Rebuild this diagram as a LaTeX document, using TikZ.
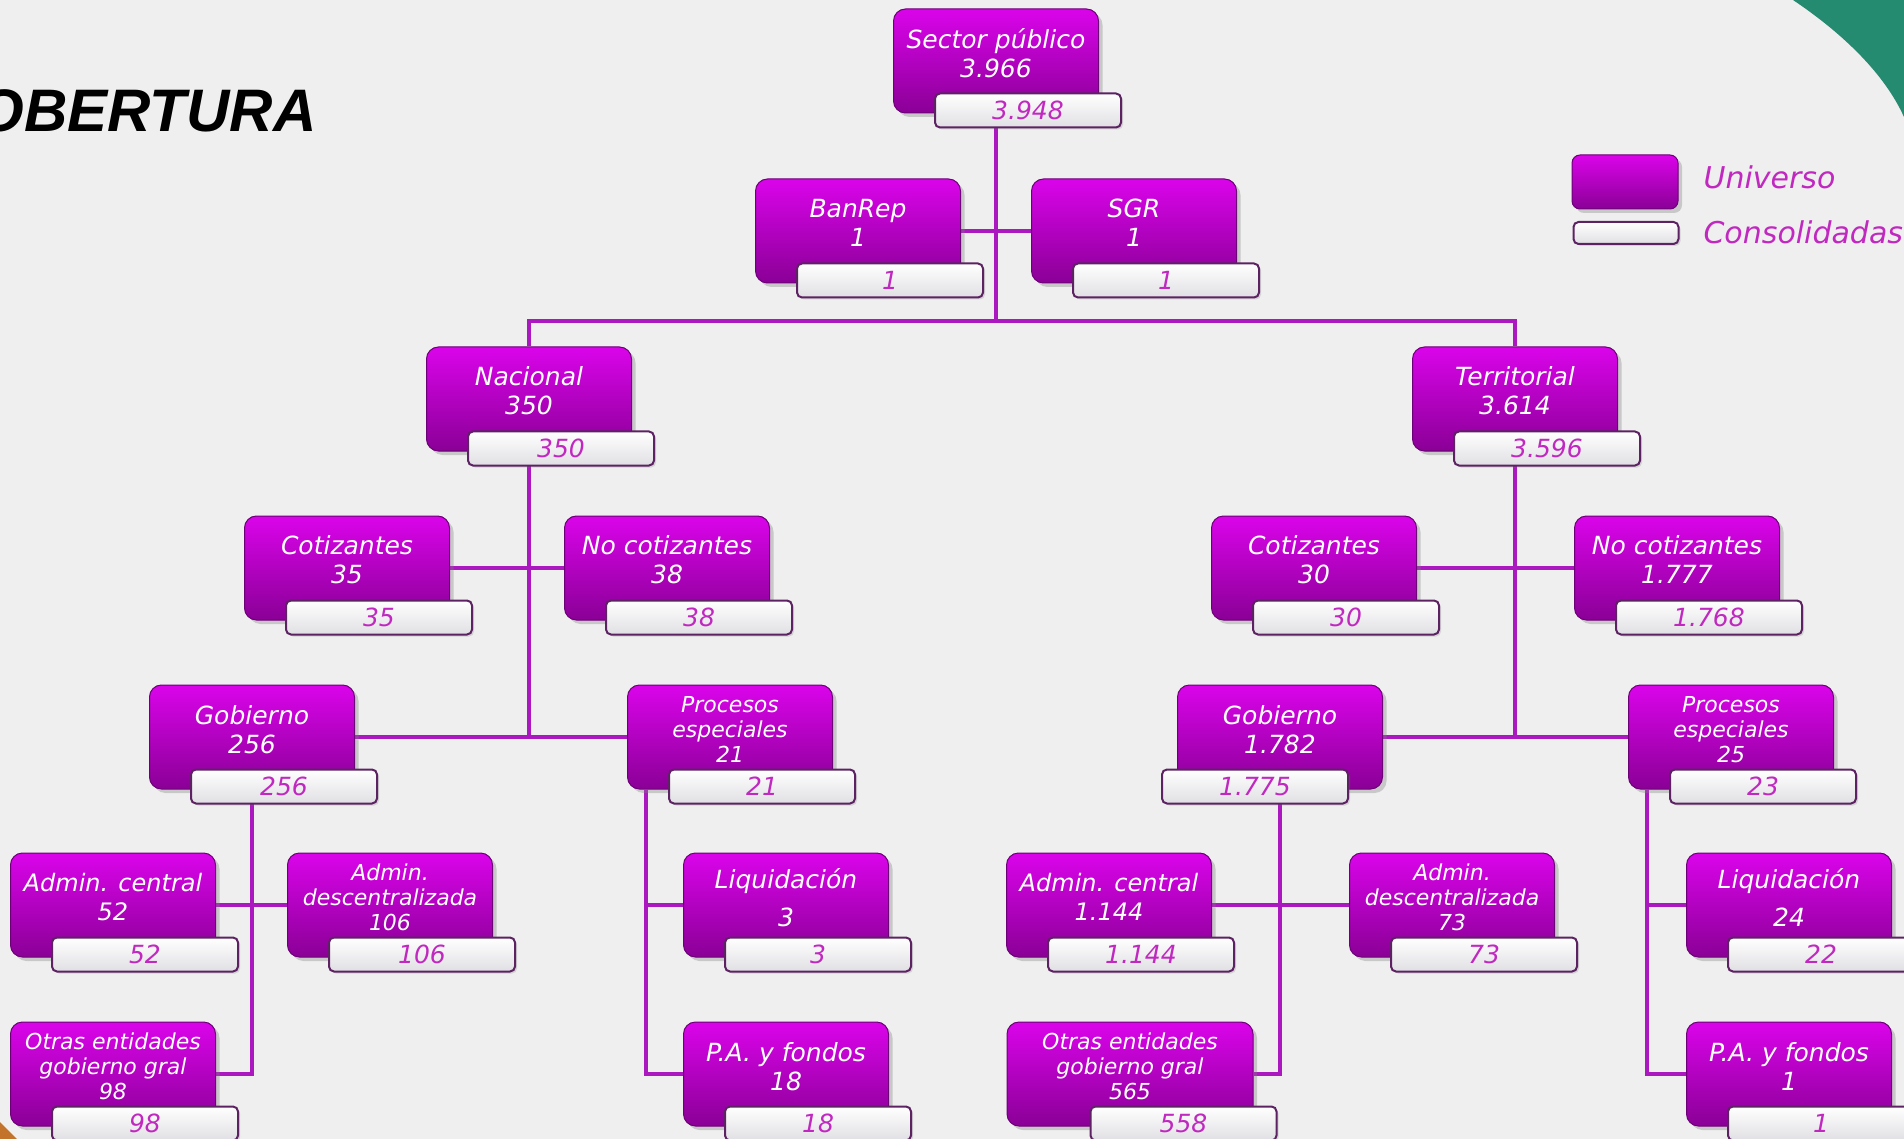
\documentclass[tikz,border=0pt]{standalone}
\usepackage{fontspec}
\setmainfont{DejaVu Sans}[ItalicFont={DejaVu Sans Oblique}]
\newfontfamily\titlefont{Liberation Sans}
\usetikzlibrary{shadows}
\pgfdeclarelayer{background}
\pgfsetlayers{background,main}
\definecolor{bgcol}{RGB}{239,239,239}
\definecolor{unitop}{RGB}{218,4,234}
\definecolor{unibot}{RGB}{138,0,150}
\definecolor{uniedge}{RGB}{108,0,118}
\definecolor{conbot}{RGB}{224,224,228}
\definecolor{conedge}{RGB}{92,34,98}
\definecolor{context}{RGB}{192,40,192}
\definecolor{linkcol}{RGB}{172,24,192}
\definecolor{cornergreen}{RGB}{36,138,112}
\definecolor{cornerorange}{RGB}{196,116,42}
\begin{document}
\begin{tikzpicture}
  [
    x             = 1pt,
    y             = -1pt,
    universe/.style = {draw=uniedge, line width=1pt, rounded corners=12pt,
                       top color=unitop, bottom color=unibot,
                       minimum width=205pt, minimum height=104pt, inner sep=2pt,
                       text=white, align=center,
                       font=\fontsize{25}{29}\selectfont\itshape,
                       drop shadow={shadow xshift=4pt, shadow yshift=-4pt, opacity=0.35},
                       execute at end node={\rule[-16pt]{0pt}{0pt}}},
    smalltext/.style = {font=\fontsize{22}{25}\selectfont\itshape},
    consol/.style   = {draw=conedge, line width=2pt, rounded corners=5pt,
                       top color=white, bottom color=conbot,
                       minimum width=186pt, minimum height=34pt, inner sep=0pt,
                       text=context, anchor=north west,
                       font=\fontsize{25}{29}\selectfont\itshape,
                       drop shadow={shadow xshift=2pt, shadow yshift=-2pt, opacity=0.25}},
    legendtext/.style = {anchor=west, text=context, font=\fontsize{30}{34}\selectfont\itshape},
    link/.style     = {draw=linkcol, line width=4pt}
  ]
  \useasboundingbox (0,0) rectangle (1904,1139);
  \begin{pgfonlayer}{background}
    \fill[bgcol] (0,0) rectangle (1904,1139);
  \end{pgfonlayer}
  \clip (0,0) rectangle (1904,1139);

  % corners of the slide
  \fill[cornergreen] (1793,0) .. controls (1845,35) and (1885,75) .. (1904,117) -- (1904,0) -- cycle;
  \fill[cornerorange] (0,1122) -- (17,1139) -- (0,1139) -- cycle;

  % title
  \node[anchor=base east, font=\titlefont\bfseries\itshape\fontsize{60}{60}\selectfont] (title) at (320,132) {COBERTURA};

  % legend
  \node[universe, minimum width=106pt, minimum height=54pt, rounded corners=8pt] (leg-u) at (1625,182) {};
  \node[consol, anchor=center, minimum width=105pt, minimum height=22pt] (leg-c) at (1626,233) {};
  \node[legendtext] (leg-u-t) at (1700,177) {Universo};
  \node[legendtext] (leg-c-t) at (1700,232) {Consolidadas};

  % top
  \node[universe] (sp) at (996,61) {Sector público\\3.966};
  \node[consol] (sp-c) at ([xshift=41pt,yshift=21pt]sp.south west) {3.948};
  \node[universe] (banrep) at (858,231) {BanRep\\1};
  \node[consol] (banrep-c) at ([xshift=41pt,yshift=21pt]banrep.south west) {1};
  \node[universe] (sgr) at (1134,231) {SGR\\1};
  \node[consol] (sgr-c) at ([xshift=41pt,yshift=21pt]sgr.south west) {1};

  % nacional
  \node[universe] (nac) at (529,399) {Nacional\\350};
  \node[consol] (nac-c) at ([xshift=41pt,yshift=21pt]nac.south west) {350};
  \node[universe] (cotN) at (347,568) {Cotizantes\\35};
  \node[consol] (cotN-c) at ([xshift=41pt,yshift=21pt]cotN.south west) {35};
  \node[universe] (nocN) at (667,568) {No cotizantes\\38};
  \node[consol] (nocN-c) at ([xshift=41pt,yshift=21pt]nocN.south west) {38};
  \node[universe] (gobN) at (252,737) {Gobierno\\256};
  \node[consol] (gobN-c) at ([xshift=41pt,yshift=21pt]gobN.south west) {256};
  \node[universe, smalltext] (proN) at (730,737) {Procesos\\especiales\\21};
  \node[consol] (proN-c) at ([xshift=41pt,yshift=21pt]proN.south west) {21};
  \node[universe, font=\fontsize{24}{29}\selectfont\itshape] (admcN) at (113,905) {Admin. central\\52};
  \node[consol] (admcN-c) at ([xshift=41pt,yshift=21pt]admcN.south west) {52};
  \node[universe, smalltext] (admdN) at (390,905) {Admin.\\descentralizada\\106};
  \node[consol] (admdN-c) at ([xshift=41pt,yshift=21pt]admdN.south west) {106};
  \node[universe] (liqN) at (786,905) {Liquidación\\[9pt]3};
  \node[consol] (liqN-c) at ([xshift=41pt,yshift=21pt]liqN.south west) {3};
  \node[universe, smalltext] (otrN) at (113,1074) {Otras entidades\\gobierno gral\\98};
  \node[consol] (otrN-c) at ([xshift=41pt,yshift=21pt]otrN.south west) {98};
  \node[universe] (paN) at (786,1074) {P.A. y fondos\\18};
  \node[consol] (paN-c) at ([xshift=41pt,yshift=21pt]paN.south west) {18};

  % territorial
  \node[universe] (ter) at (1515,399) {Territorial\\3.614};
  \node[consol] (ter-c) at ([xshift=41pt,yshift=21pt]ter.south west) {3.596};
  \node[universe] (cotT) at (1314,568) {Cotizantes\\30};
  \node[consol] (cotT-c) at ([xshift=41pt,yshift=21pt]cotT.south west) {30};
  \node[universe] (nocT) at (1677,568) {No cotizantes\\1.777};
  \node[consol] (nocT-c) at ([xshift=41pt,yshift=21pt]nocT.south west) {1.768};
  \node[universe] (gobT) at (1280,737) {Gobierno\\1.782};
  \node[consol] (gobT-c) at ([xshift=-16pt,yshift=21pt]gobT.south west) {1.775};
  \node[universe, smalltext] (proT) at (1731,737) {Procesos\\especiales\\25};
  \node[consol] (proT-c) at ([xshift=41pt,yshift=21pt]proT.south west) {23};
  \node[universe, font=\fontsize{24}{29}\selectfont\itshape] (admcT) at (1109,905) {Admin. central\\1.144};
  \node[consol] (admcT-c) at ([xshift=41pt,yshift=21pt]admcT.south west) {1.144};
  \node[universe, smalltext] (admdT) at (1452,905) {Admin.\\descentralizada\\73};
  \node[consol] (admdT-c) at ([xshift=41pt,yshift=21pt]admdT.south west) {73};
  \node[universe] (liqT) at (1789,905) {Liquidación\\[9pt]24};
  \node[consol] (liqT-c) at ([xshift=41pt,yshift=21pt]liqT.south west) {22};
  \node[universe, smalltext, minimum width=246pt] (otrT) at (1130,1074) {Otras entidades\\gobierno gral\\565};
  \node[consol] (otrT-c) at ([xshift=83pt,yshift=21pt]otrT.south west) {558};
  \node[universe] (paT) at (1789,1074) {P.A. y fondos\\1};
  \node[consol] (paT-c) at ([xshift=41pt,yshift=21pt]paT.south west) {1};

  % connectors
  \begin{pgfonlayer}{background}
    \coordinate (sp-j) at (sp |- 0,321);
    \draw[link] (sp) -- (sp-j);
    \draw[link] (banrep) -- (sgr);
    \draw[link] (nac) |- (sp-j) -| (ter);

    \draw[link] (nac) -- (nac |- gobN);
    \draw[link] (cotN) -- (nocN);
    \draw[link] (gobN) -- (proN);
    \draw[link] (gobN) |- (otrN);
    \draw[link] (admcN) -- (admdN);
    \coordinate (proN-j) at ([xshift=19pt]proN.south west);
    \draw[link] (proN-j) |- (liqN);
    \draw[link] (proN-j) |- (paN);

    \draw[link] (ter) -- (ter |- gobT);
    \draw[link] (cotT) -- (nocT);
    \draw[link] (gobT) -- (proT);
    \draw[link] (gobT) |- (otrT);
    \draw[link] (admcT) -- (admdT);
    \coordinate (proT-j) at ([xshift=19pt]proT.south west);
    \draw[link] (proT-j) |- (liqT);
    \draw[link] (proT-j) |- (paT);
  \end{pgfonlayer}
\end{tikzpicture}
\end{document}
